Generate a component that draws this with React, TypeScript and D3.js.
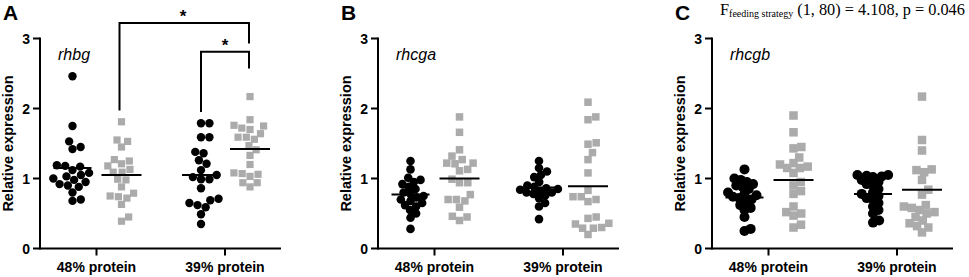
import React from "react";
import * as d3 from "d3";

const categories = ["48% protein", "39% protein"];
const yTickValues = [0, 1, 2, 3];
const panelLetters = ["A", "B", "C"];
const geneNames = ["rhbg", "rhcga", "rhcgb"];

// rhbg (panel A): circles = black series, squares = grey series
const rhbgCircles48 = [2.46, 1.75, 1.53, 1.45, 1.42, 1.19, 1.18, 1.17, 1.12, 1.08, 1.05, 1.03, 1.0, 0.98, 0.95, 0.92, 0.9, 0.88, 0.8, 0.7, 0.68];
const rhbgSquares48 = [1.81, 1.55, 1.53, 1.45, 1.27, 1.25, 1.21, 1.18, 1.13, 1.09, 1.09, 0.99, 0.98, 0.88, 0.79, 0.75, 0.74, 0.72, 0.63, 0.45, 0.39];
const rhbgCircles39 = [1.79, 1.79, 1.59, 1.59, 1.38, 1.36, 1.26, 1.21, 1.12, 1.05, 1.02, 0.99, 0.99, 0.86, 0.71, 0.69, 0.65, 0.62, 0.59, 0.49, 0.35];
const rhbgSquares39 = [2.17, 1.84, 1.76, 1.75, 1.72, 1.7, 1.64, 1.59, 1.59, 1.56, 1.47, 1.41, 1.33, 1.2, 1.08, 1.07, 1.06, 1.03, 0.94, 0.94, 0.88];
const rhbgMeans = [1.15, 1.05, 1.05, 1.42];

// rhcga (panel B)
const rhcgaCircles48 = [1.25, 1.13, 1.01, 0.98, 0.95, 0.92, 0.88, 0.85, 0.8, 0.78, 0.75, 0.73, 0.7, 0.68, 0.65, 0.62, 0.6, 0.55, 0.5, 0.44, 0.28];
const rhcgaSquares48 = [1.88, 1.66, 1.41, 1.32, 1.27, 1.22, 1.22, 1.21, 1.13, 1.11, 0.99, 0.94, 0.94, 0.77, 0.7, 0.7, 0.68, 0.59, 0.46, 0.45, 0.4];
const rhcgaCircles39 = [1.25, 1.15, 1.1, 1.05, 1.02, 0.95, 0.9, 0.88, 0.86, 0.85, 0.84, 0.82, 0.8, 0.8, 0.78, 0.76, 0.72, 0.65, 0.6, 0.42];
const rhcgaSquares39 = [2.09, 1.88, 1.84, 1.51, 1.49, 1.37, 1.27, 1.08, 0.83, 0.74, 0.74, 0.7, 0.67, 0.45, 0.43, 0.36, 0.35, 0.3, 0.29, 0.29, 0.2];
const rhcgaMeans = [0.77, 1.0, 0.87, 0.89];

// rhcgb (panel C)
const rhcgbCircles48 = [1.13, 1.0, 0.98, 0.95, 0.92, 0.9, 0.88, 0.85, 0.8, 0.78, 0.76, 0.74, 0.72, 0.7, 0.68, 0.62, 0.58, 0.55, 0.45, 0.28, 0.25];
const rhcgbSquares48 = [1.9, 1.66, 1.45, 1.43, 1.3, 1.2, 1.22, 1.17, 1.15, 1.15, 1.08, 0.95, 0.9, 0.82, 0.78, 0.6, 0.52, 0.5, 0.47, 0.34, 0.3];
const rhcgbCircles39 = [1.05, 1.05, 1.04, 1.03, 1.02, 0.98, 0.95, 0.92, 0.9, 0.85, 0.8, 0.78, 0.75, 0.72, 0.7, 0.65, 0.6, 0.55, 0.5, 0.4, 0.37];
const rhcgbSquares39 = [2.17, 1.55, 1.4, 1.13, 1.12, 1.09, 0.98, 0.84, 0.77, 0.62, 0.6, 0.58, 0.55, 0.52, 0.5, 0.45, 0.4, 0.36, 0.32, 0.3, 0.23];
const rhcgbMeans = [0.73, 0.98, 0.78, 0.84];

const statLabel = { main: "F", sub: "feeding strategy", rest: " (1, 80) = 4.108, p = 0.046" };

const BLACK = "#000000";
const GREY = "#ababab";
const SANS = "'Liberation Sans', Arial, sans-serif";
const SERIF = "'Liberation Serif', 'Times New Roman', serif";

function swarm(values: number[], y: (v: number) => number, d: number): number[] {
  const order = values.map((_, i) => i).sort((a, b) => values[a] - values[b]);
  const placed: { x: number; y: number }[] = [];
  const out: number[] = new Array(values.length).fill(0);
  for (const i of order) {
    const py = y(values[i]);
    const cands = [0];
    for (const p of placed) {
      const dy = Math.abs(p.y - py);
      if (dy < d) {
        const dx = Math.sqrt(d * d - dy * dy);
        cands.push(p.x + dx, p.x - dx);
      }
    }
    cands.sort((a, b) => Math.abs(a) - Math.abs(b));
    const chosen =
      cands.find((c) => placed.every((p) => (p.x - c) ** 2 + (p.y - py) ** 2 >= d * d - 1e-6)) ?? 0;
    out[i] = chosen;
    placed.push({ x: chosen, y: py });
  }
  return out;
}

type PanelProps = {
  x0: number;
  letter: string;
  gene: string;
  circles: number[][];
  squares: number[][];
  means: number[];
  r: number;
  circleGap: number;
  sq: number;
  squareGap: number;
  children?: React.ReactNode;
};

const yScale = d3.scaleLinear().domain([0, 3]).range([248.5, 38.5]);
const AXIS_LEN = 241;

function Panel({ x0, letter, gene, circles, squares, means, r, circleGap, sq, squareGap, children }: PanelProps) {
  const x = d3.scalePoint<string>().domain(categories).range([x0 + 56.5, x0 + 185]);
  const y = yScale;
  const yBase = y(0);
  return (
    <g>
      <text x={x0 - 37} y={20} fontFamily={SANS} fontWeight="bold" fontSize={21}>
        {letter}
      </text>
      <text x={x0 + 18} y={60} fontFamily={SANS} fontStyle="italic" fontSize={16}>
        {gene}
      </text>
      {/* y axis */}
      <line x1={x0} x2={x0} y1={y(3) - 1} y2={yBase + 1} stroke={BLACK} strokeWidth={2} />
      {yTickValues.map((t) => (
        <g key={t}>
          <line x1={x0 - 7} x2={x0} y1={y(t)} y2={y(t)} stroke={BLACK} strokeWidth={2} />
          <text
            x={x0 - 10}
            y={y(t)}
            textAnchor="end"
            dominantBaseline="central"
            fontFamily={SANS}
            fontWeight="bold"
            fontSize={14}
          >
            {t}
          </text>
        </g>
      ))}
      <text
        transform={`translate(${x0 - 27},${(y(0) + y(3)) / 2}) rotate(-90)`}
        textAnchor="middle"
        fontFamily={SANS}
        fontWeight="bold"
        fontSize={14.5}
      >
        Relative expression
      </text>
      {/* x axis */}
      <line x1={x0} x2={x0 + AXIS_LEN} y1={yBase} y2={yBase} stroke={BLACK} strokeWidth={2} />
      {categories.map((c) => (
        <g key={c}>
          <line x1={x(c)!} x2={x(c)!} y1={yBase} y2={yBase + 7} stroke={BLACK} strokeWidth={2} />
          <text x={x(c)!} y={272} textAnchor="middle" fontFamily={SANS} fontWeight="bold" fontSize={14}>
            {c}
          </text>
        </g>
      ))}
      {categories.map((c, ci) => {
        const cx = x(c)! - 24;
        const sx = x(c)! + 25;
        const cOff = swarm(circles[ci], y, circleGap);
        const sOff = swarm(squares[ci], y, squareGap);
        return (
          <g key={"pts" + c}>
            {squares[ci].map((v, i) => (
              <rect
                key={"s" + i}
                x={sx + sOff[i] - sq / 2}
                y={y(v) - sq / 2}
                width={sq}
                height={sq}
                fill={GREY}
              />
            ))}
            {circles[ci].map((v, i) => (
              <circle key={"c" + i} cx={cx + cOff[i]} cy={y(v)} r={r} fill={BLACK} />
            ))}
            <line x1={cx - 19} x2={cx + 19} y1={y(means[ci * 2])} y2={y(means[ci * 2])} stroke={BLACK} strokeWidth={2} />
            <line x1={sx - 20} x2={sx + 20} y1={y(means[ci * 2 + 1])} y2={y(means[ci * 2 + 1])} stroke={BLACK} strokeWidth={2} />
          </g>
        );
      })}
      {children}
    </g>
  );
}

function Bracket({ xl, xr, top, left, right, star }: { xl: number; xr: number; top: number; left: number; right: number; star: number }) {
  const y = yScale;
  const path = d3.path();
  path.moveTo(xl, y(left));
  path.lineTo(xl, y(top));
  path.lineTo(xr, y(top));
  path.lineTo(xr, y(right));
  return (
    <g>
      <path d={path.toString()} fill="none" stroke={BLACK} strokeWidth={2} />
      <text x={star} y={y(top) - 1} textAnchor="middle" fontFamily={SANS} fontWeight="bold" fontSize={17}>
        *
      </text>
    </g>
  );
}

export default function App() {
  const xA = d3.scalePoint<string>().domain(categories).range([40 + 56.5, 40 + 185]);
  const grey48A = xA(categories[0])! + 25;
  const grey39A = xA(categories[1])! + 25;
  const black39A = xA(categories[1])! - 24;
  return (
    <svg width={969} height={277} style={{ position: "absolute", left: 0, top: 0, background: "#fff" }}>
      <Panel
        x0={40}
        letter={panelLetters[0]}
        gene={geneNames[0]}
        circles={[rhbgCircles48, rhbgCircles39]}
        squares={[rhbgSquares48, rhbgSquares39]}
        means={rhbgMeans}
        r={4.2}
        circleGap={8.4}
        sq={7.2}
        squareGap={8.3}
      >
        <Bracket xl={grey48A - 2} xr={grey39A - 1} top={3.22} left={1.97} right={2.93} star={183} />
        <Bracket xl={black39A} xr={grey39A - 1} top={2.81} left={1.95} right={2.57} star={225} />
      </Panel>
      <Panel
        x0={378}
        letter={panelLetters[1]}
        gene={geneNames[1]}
        circles={[rhcgaCircles48, rhcgaCircles39]}
        squares={[rhcgaSquares48, rhcgaSquares39]}
        means={rhcgaMeans}
        r={4.3}
        circleGap={7}
        sq={7.5}
        squareGap={8.3}
      />
      <Panel
        x0={712}
        letter={panelLetters[2]}
        gene={geneNames[2]}
        circles={[rhcgbCircles48, rhcgbCircles39]}
        squares={[rhcgbSquares48, rhcgbSquares39]}
        means={rhcgbMeans}
        r={5}
        circleGap={6.5}
        sq={8.5}
        squareGap={8}
      />
      <text x={720} y={15} fontFamily={SERIF} fontSize={16.3}>
        {statLabel.main}
        <tspan fontSize={10} dy={2}>
          {statLabel.sub}
        </tspan>
        <tspan dy={-2}>{statLabel.rest}</tspan>
      </text>
    </svg>
  );
}
